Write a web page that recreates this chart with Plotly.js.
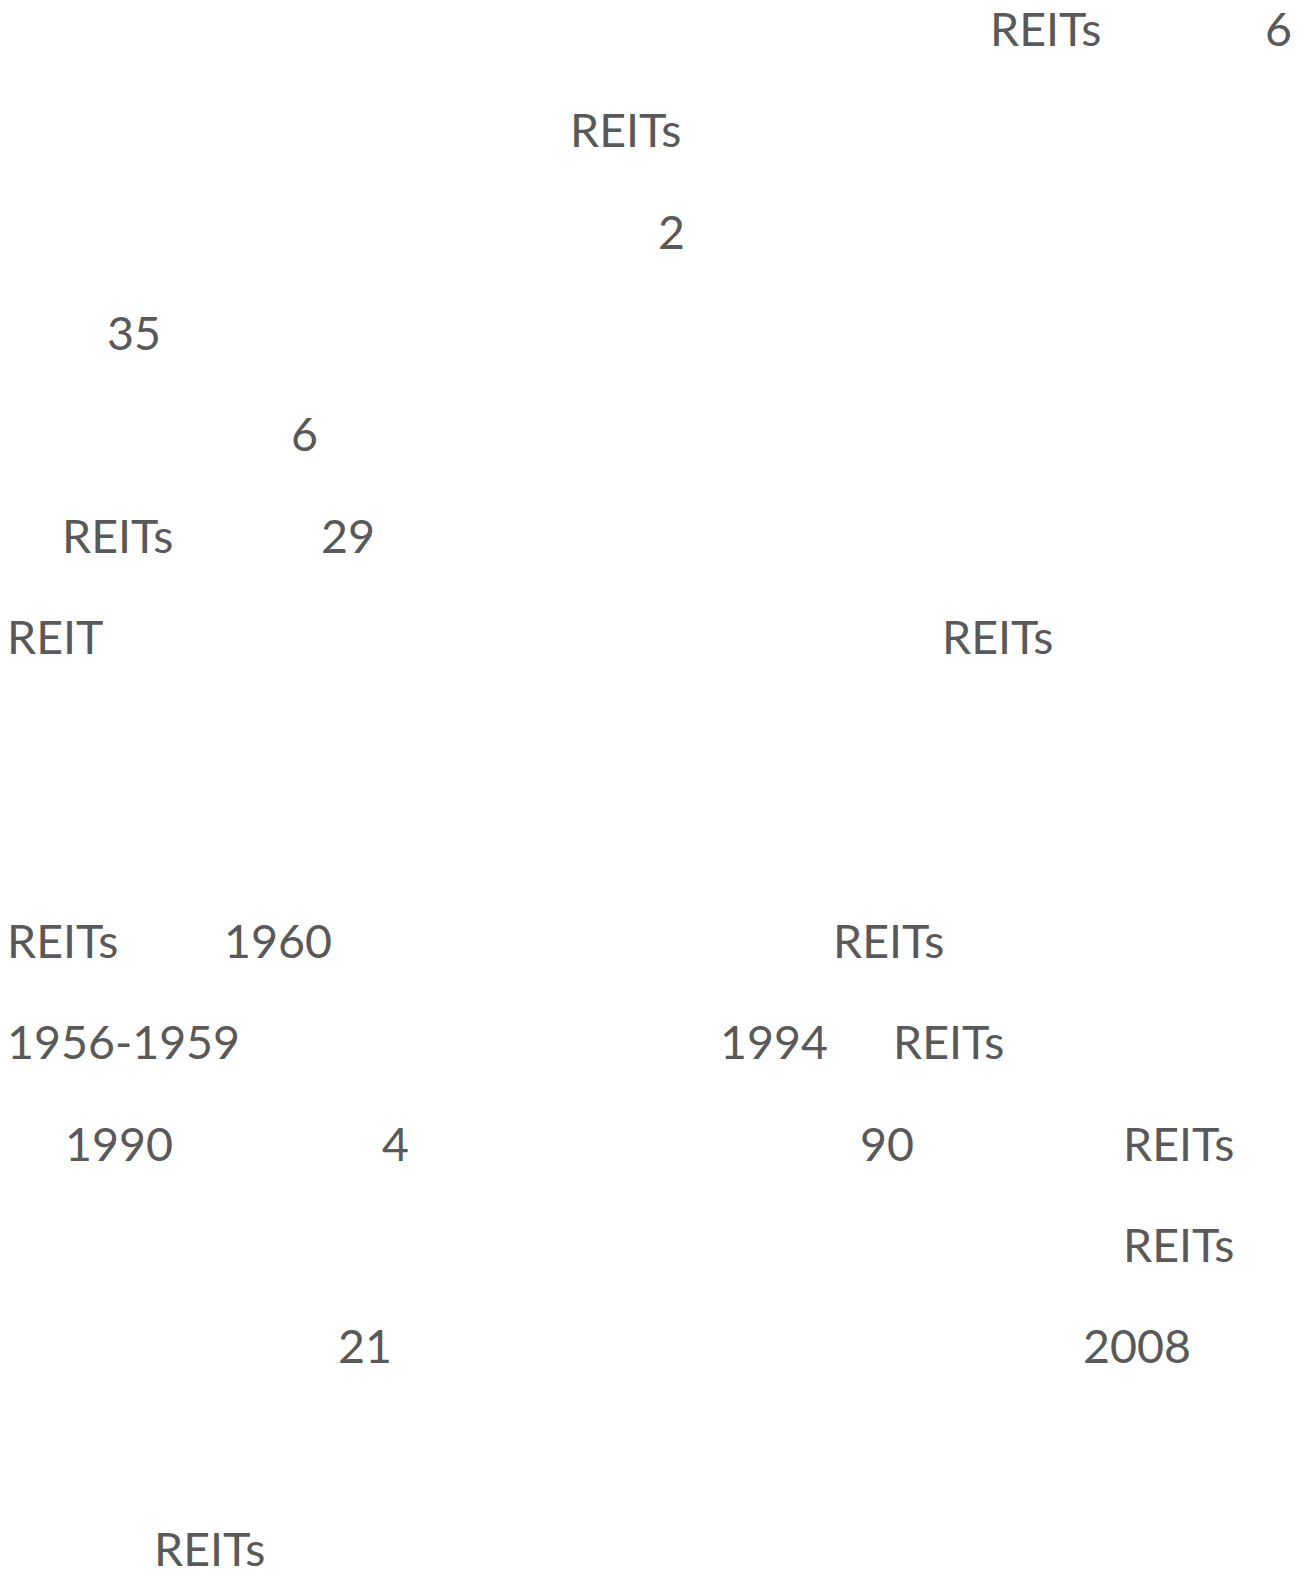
<!DOCTYPE html>
<html>
<head>
<meta charset="utf-8">
<script src="https://cdn.plot.ly/plotly-3.0.1.min.js"></script>
<style>html,body{margin:0;padding:0;background:#fff;}#chart{width:1309px;height:1571px;}</style>
</head>
<body>
<div id="chart"></div>
<script>
// Visible text fragments (line number, horizontal position in px, text)
const lineNo   = [0, 0, 1, 2, 3, 4, 5, 5, 6, 6, 9, 9, 9, 10, 10, 10, 11, 11, 11, 11, 12, 13, 13, 15];
const columnPx = [990, 1265, 570, 658, 107, 291, 62, 321, 7, 942, 7, 224, 833, 7, 720, 893, 65, 382, 860, 1123, 1123, 338, 1083, 154];
const fragments = ["REITs", "6", "REITs", "2", "35", "6", "REITs", "29", "REIT", "REITs",
                   "REITs", "1960", "REITs", "1956-1959", "1994", "REITs",
                   "1990", "4", "90", "REITs", "REITs", "21", "2008", "REITs"];

const trace = {
  type: 'scatter',
  mode: 'text',
  x: columnPx,
  y: lineNo,
  text: fragments,
  textposition: 'middle right',
  textfont: {family: 'Lato, sans-serif', size: 46.5, color: '#595959'},
  hoverinfo: 'skip',
  showlegend: false
};

const layout = {
  width: 1309,
  height: 1571,
  margin: {l: 0, r: 0, t: 0, b: 0},
  paper_bgcolor: '#ffffff',
  plot_bgcolor: '#ffffff',
  xaxis: {range: [0, 1309], visible: false, fixedrange: true},
  yaxis: {range: [15.166, -0.34], visible: false, fixedrange: true},
  showlegend: false
};

Plotly.newPlot('chart', [trace], layout, {displayModeBar: false, staticPlot: true});
</script>
</body>
</html>
